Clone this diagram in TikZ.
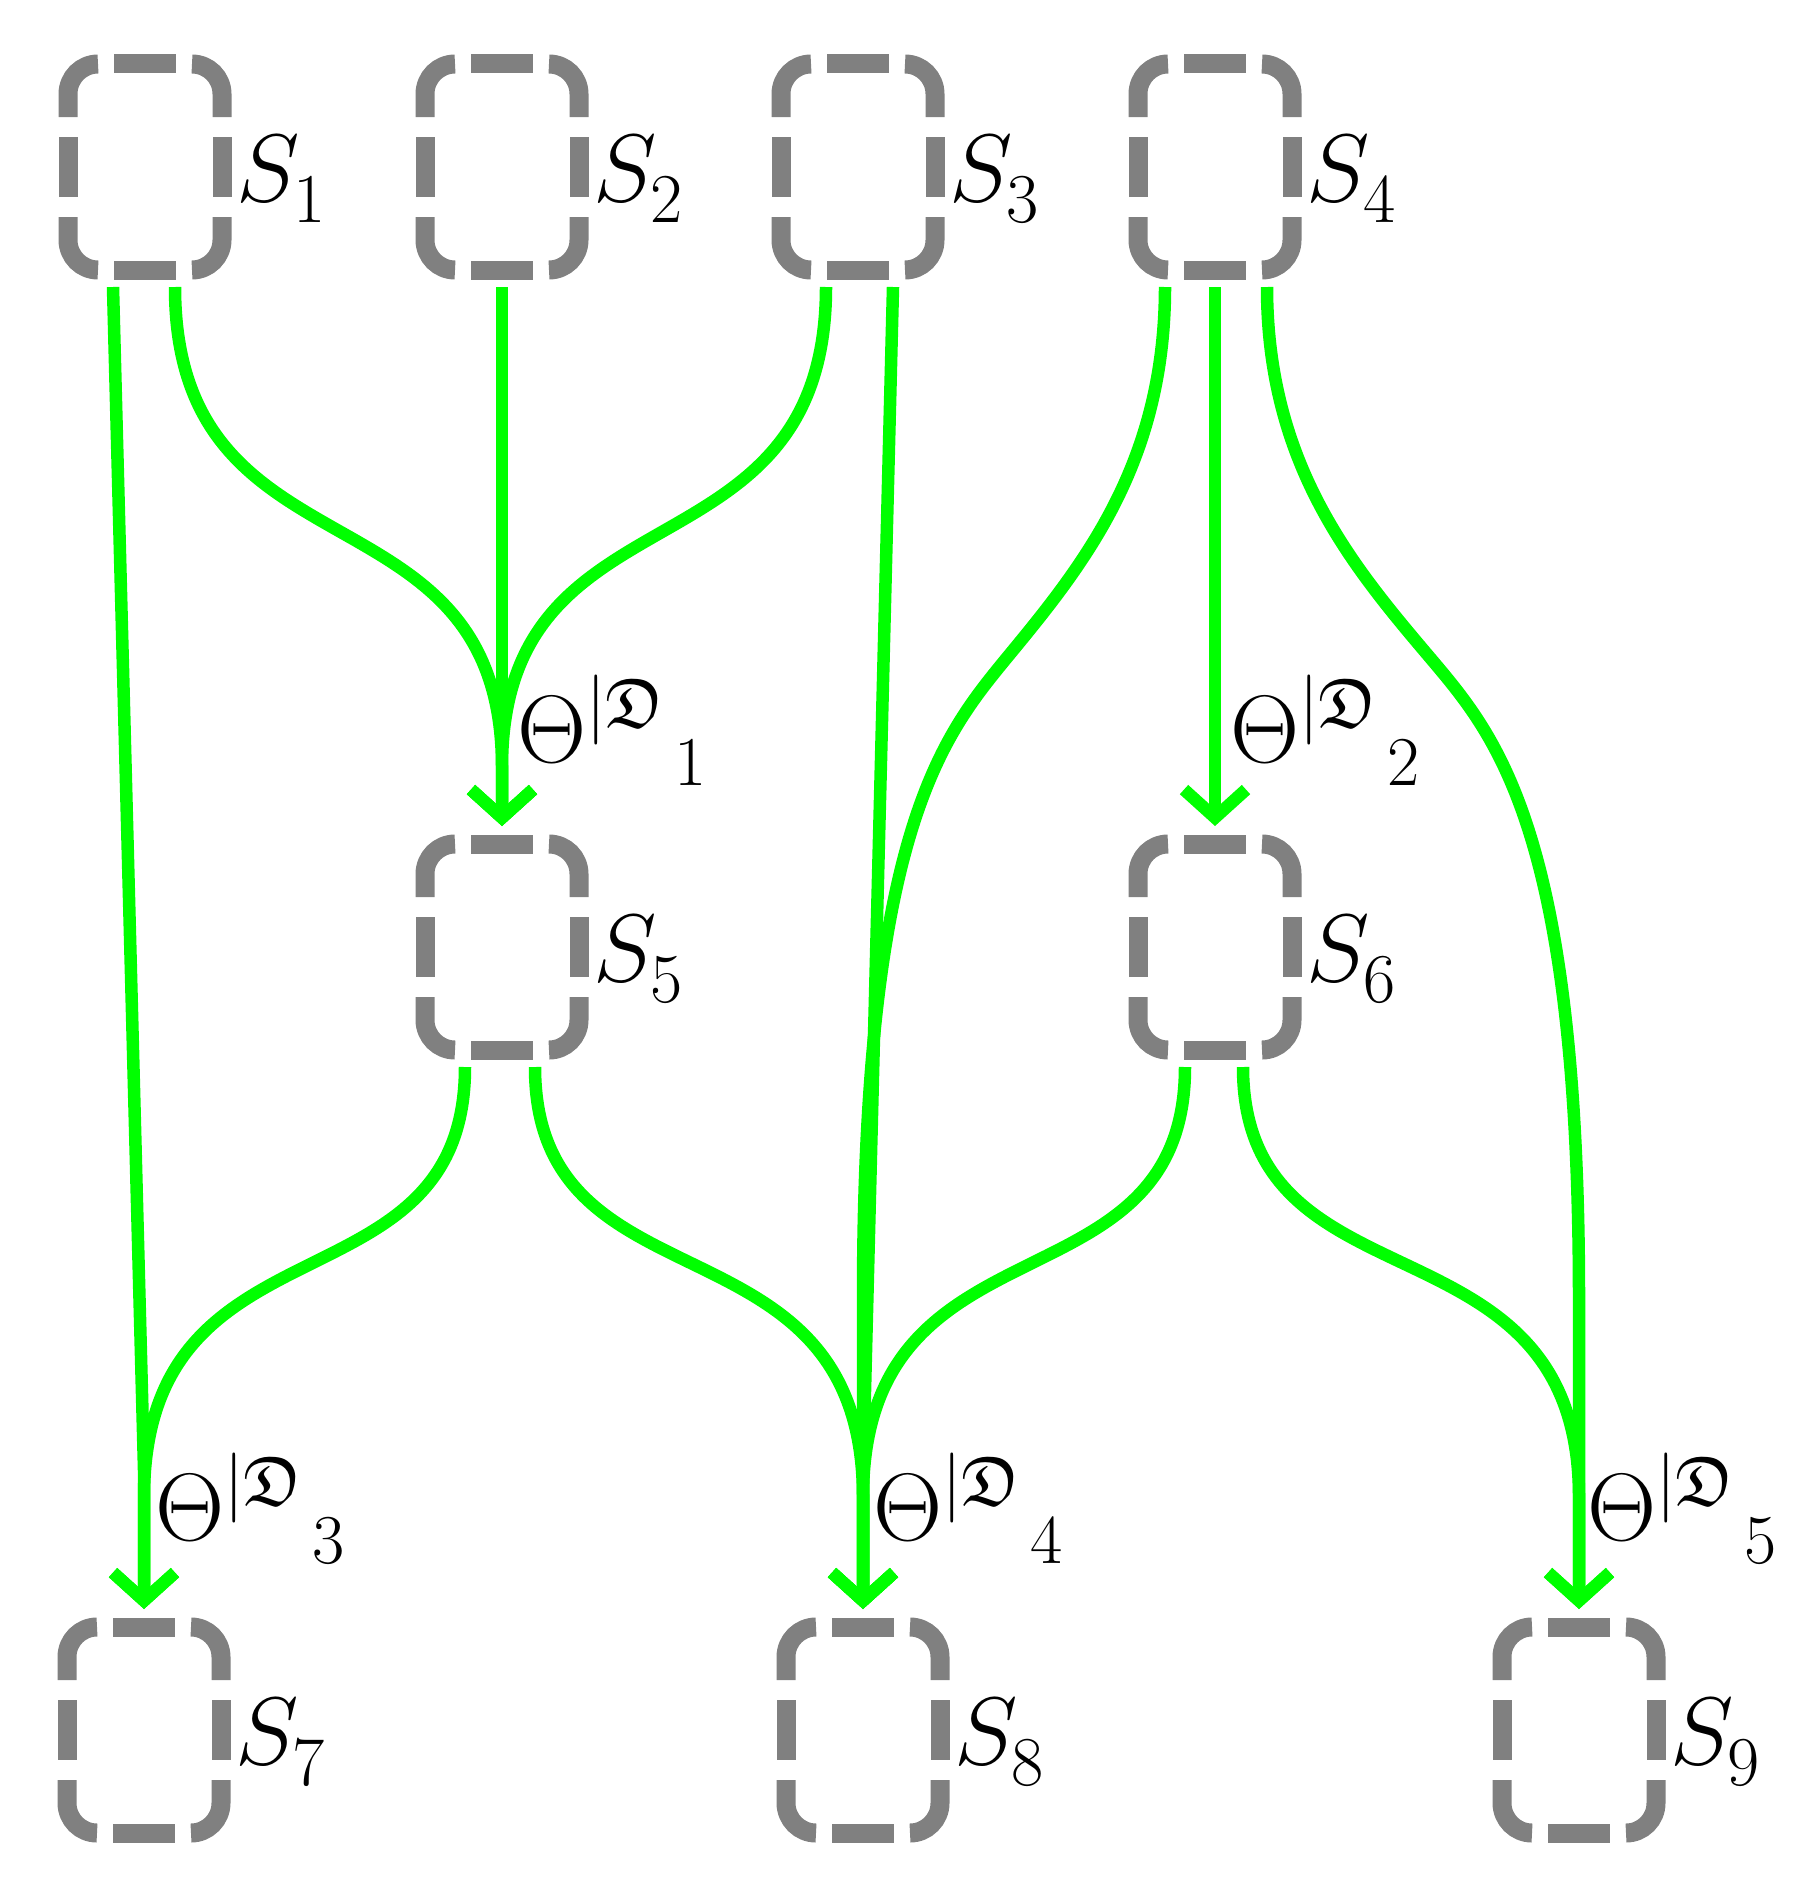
\RequirePackage{fix-cm}
\documentclass[tikz,border=0pt]{standalone}
\usepackage{amssymb}
\usetikzlibrary{arrows.meta}
\DeclareMathSizes{96}{96}{70}{56}
\definecolor{boxgray}{RGB}{128,128,128}
\definecolor{linkgreen}{RGB}{0,255,0}
\newcommand\lsub[1]{_{\lower7pt\hbox{$\scriptstyle #1$}}}
\newcommand\thlab[1]{$\Theta^{|\mathfrak{D}}\mkern2mu{}_{\lower9pt\hbox{$\scriptstyle #1$}}$}
\begin{document}
\begin{tikzpicture}[x=1pt,y=-1pt,
  state/.style={draw=none, minimum width=154pt, minimum height=206pt, inner sep=0pt, outer sep=0pt},
  boxpiece/.style={draw=boxgray, line width=19pt, rounded corners=30pt},
  arr/.style={draw=linkgreen, line width=12.5pt, -{Straight Barb[length=28pt,width=62pt]}},
  lab/.style={inner sep=0pt, outer sep=0pt, anchor=base west, font=\fontsize{96}{110}\selectfont}]
\useasboundingbox (0,0) rectangle (1811,1884);
% states
\node[state] (s1) at (145,167) {};
\node[state] (s2) at (502,167) {};
\node[state] (s3) at (858,167) {};
\node[state] (s4) at (1215,167) {};
\node[state] (s5) at (502,947) {};
\node[state] (s6) at (1215,947) {};
\node[state] (s7) at (144,1730) {};
\node[state] (s8) at (863,1730) {};
\node[state] (s9) at (1579,1730) {};
\foreach \n in {s1,s2,s3,s4,s5,s6,s7,s8,s9}{
  \draw[boxpiece] ([xshift=-31pt]\n.north) -- ([xshift=31pt]\n.north);
  \draw[boxpiece] ([xshift=-31pt]\n.south) -- ([xshift=31pt]\n.south);
  \draw[boxpiece] ([yshift=30pt]\n.east) -- ([yshift=-30pt]\n.east);
  \draw[boxpiece] ([yshift=30pt]\n.west) -- ([yshift=-30pt]\n.west);
  \draw[boxpiece] ([xshift=47pt]\n.north) -- (\n.north east) -- ([yshift=-53pt]\n.north east);
  \draw[boxpiece] ([xshift=-47pt]\n.north) -- (\n.north west) -- ([yshift=-53pt]\n.north west);
  \draw[boxpiece] ([xshift=47pt]\n.south) -- (\n.south east) -- ([yshift=53pt]\n.south east);
  \draw[boxpiece] ([xshift=-47pt]\n.south) -- (\n.south west) -- ([yshift=53pt]\n.south west);
}
% state labels
\node[lab] (l1) at ([shift={(14pt,-34pt)}]s1.east) {$S\lsub{1}$};
\node[lab] (l2) at ([shift={(14pt,-34pt)}]s2.east) {$S\lsub{2}$};
\node[lab] (l3) at ([shift={(14pt,-34pt)}]s3.east) {$S\lsub{3}$};
\node[lab] (l4) at ([shift={(14pt,-34pt)}]s4.east) {$S\lsub{4}$};
\node[lab] (l5) at ([shift={(14pt,-34pt)}]s5.east) {$S\lsub{5}$};
\node[lab] (l6) at ([shift={(14pt,-34pt)}]s6.east) {$S\lsub{6}$};
\node[lab] (l7) at ([shift={(14pt,-34pt)}]s7.east) {$S\lsub{7}$};
\node[lab] (l8) at ([shift={(14pt,-34pt)}]s8.east) {$S\lsub{8}$};
\node[lab] (l9) at ([shift={(14pt,-34pt)}]s9.east) {$S\lsub{9}$};
% connectors: top row
\draw[arr] ([shift={(-32pt,-17pt)}]s1.south) -- (144,1470) -- ([yshift=18pt]s7.north);
\draw[arr] ([shift={(30pt,-17pt)}]s1.south) .. controls (175,587) and (502,477) .. (502,767) -- ([yshift=18pt]s5.north);
\draw[arr] ([yshift=-17pt]s2.south) -- ([yshift=18pt]s5.north);
\draw[arr] ([shift={(-32pt,-17pt)}]s3.south) .. controls (826,587) and (502,477) .. (502,767) -- ([yshift=18pt]s5.north);
\draw[arr] ([shift={(35pt,-17pt)}]s3.south) -- (863,1470) -- ([yshift=18pt]s8.north);
\draw[arr] ([shift={(-50pt,-17pt)}]s4.south) .. controls (1165,466) and (1081,568) .. (1005,660)
  .. controls (942,737) and (863,834) .. (863,1300) -- ([yshift=18pt]s8.north);
\draw[arr] ([yshift=-17pt]s4.south) -- ([yshift=18pt]s6.north);
\draw[arr] ([shift={(52pt,-17pt)}]s4.south) .. controls (1267,466) and (1354,568) .. (1432,660)
  .. controls (1497,737) and (1579,834) .. (1579,1300) -- ([yshift=18pt]s9.north);
% connectors: middle row
\draw[arr] ([shift={(-37pt,-17pt)}]s5.south) .. controls (465,1317) and (144,1207) .. (144,1497) -- ([yshift=18pt]s7.north);
\draw[arr] ([shift={(33pt,-17pt)}]s5.south) .. controls (535,1317) and (863,1207) .. (863,1497) -- ([yshift=18pt]s8.north);
\draw[arr] ([shift={(-30pt,-17pt)}]s6.south) .. controls (1185,1317) and (863,1207) .. (863,1497) -- ([yshift=18pt]s8.north);
\draw[arr] ([shift={(28pt,-17pt)}]s6.south) .. controls (1243,1317) and (1579,1207) .. (1579,1497) -- ([yshift=18pt]s9.north);
% theta labels
\node[lab] (t1) at ([shift={(15pt,82pt)}]s5.north) {\thlab{1}};
\node[lab] (t2) at ([shift={(15pt,82pt)}]s6.north) {\thlab{2}};
\node[lab] (t3) at ([shift={(11pt,87pt)}]s7.north) {\thlab{3}};
\node[lab] (t4) at ([shift={(10pt,87pt)}]s8.north) {\thlab{4}};
\node[lab] (t5) at ([shift={(8pt,87pt)}]s9.north) {\thlab{5}};
\end{tikzpicture}
\end{document}
